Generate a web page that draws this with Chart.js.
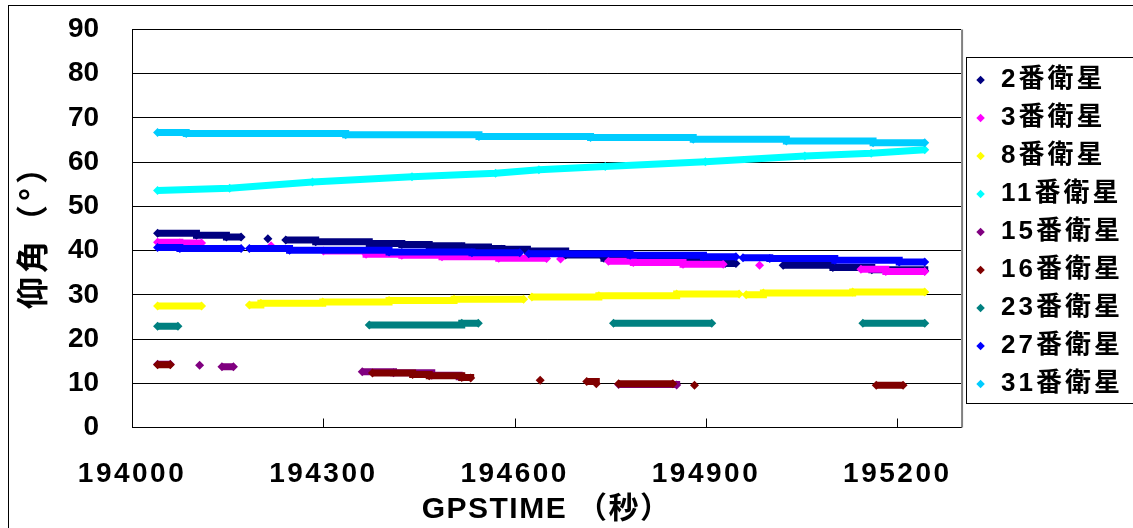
<!DOCTYPE html>
<html>
<head>
<meta charset="utf-8">
<script src="https://cdn.jsdelivr.net/npm/chart.js"></script>
<style>
html, body { margin: 0; padding: 0; background: #ffffff; }
#wrap { width: 1133px; height: 528px; position: relative; }
canvas { display: block; }
</style>
</head>
<body>
<div id="wrap"><canvas id="c" width="1133" height="528"></canvas></div>
<script>
// ---------- data ----------
const seriesNames = ['2番衛星', '3番衛星', '8番衛星', '11番衛星', '15番衛星', '16番衛星', '23番衛星', '27番衛星', '31番衛星'];
const xTickValues = [194000, 194300, 194600, 194900, 195200];
const xTitle = 'GPSTIME （秒）';
const yTitle = '仰角（°）';

// null entries mark gaps in the record
const sat2X  = [194040, 194101, 194148, 194171, null, 194213, null, 194241, 194288, 194372, 194423, 194466, 194517, 194559, 194580, 194620, 194680, 194740, 194830, 194930, 194947, null, 195021, 195099, 195160, 195243];
const sat2Y  = [43.9, 43.5, 43.1, 43.1, null, 42.7, null, 42.4, 42.0, 41.6, 41.4, 41.1, 40.8, 40.5, 40.3, 39.9, 39.0, 38.3, 37.7, 37.1, 37.1, null, 36.7, 36.2, 35.7, 35.4];

const sat3X  = [194040, 194075, 194109, null, 194218, null, 194300, 194367, 194423, 194486, 194575, 194650, null, 194672, null, 194747, 194786, 194864, 194927, null, 194984, null, 195143, 195182, 195243];
const sat3Y  = [41.9, 41.7, 41.7, null, 41.1, null, 39.9, 39.2, 38.95, 38.6, 38.3, 38.2, null, 38.1, null, 37.6, 37.3, 36.9, 36.9, null, 36.7, null, 35.8, 35.3, 35.3];

const sat8X  = [194040, 194109, null, 194184, 194202, 194299, 194403, 194505, 194614, null, 194627, 194732, 194854, 194952, null, 194963, 194990, 195130, 195243];
const sat8Y  = [27.5, 27.5, null, 27.7, 28.1, 28.4, 28.7, 29.0, 29.0, null, 29.5, 29.8, 30.2, 30.2, null, 30.0, 30.4, 30.65, 30.65];

const sat11X = [194040, 194153, 194283, 194439, 194570, 194638, 194742, 194899, 195055, 195159, 195243];
const sat11Y = [53.6, 54.1, 55.5, 56.7, 57.5, 58.3, 59.0, 60.1, 61.4, 62.0, 62.8];

const sat15X = [194040, 194060, null, 194106, null, 194141, 194159, null, 194361, 194410, 194470, 194513, 194520, null, 194763, 194854];
const sat15Y = [14.3, 14.3, null, 14.1, null, 13.75, 13.75, null, 12.6, 12.4, 11.8, 11.5, 11.5, null, 9.7, 9.6];

const sat16X = [194040, 194060, null, 194377, 194440, 194466, 194517, 194531, null, 194640, null, 194713, 194728, null, 194763, 194848, null, 194882, null, 195167, 195209];
const sat16Y = [14.2, 14.2, null, 12.3, 12.0, 11.7, 11.3, 11.2, null, 10.7, null, 10.4, 9.9, null, 9.9, 9.9, null, 9.55, null, 9.55, 9.55];

const sat23X = [194040, 194072, null, 194372, 194517, 194543, null, 194755, 194909, null, 195146, 195243];
const sat23Y = [22.9, 22.9, null, 23.2, 23.6, 23.6, null, 23.6, 23.6, null, 23.6, 23.6];

const sat27X = [194040, 194075, 194171, null, 194184, 194247, 194403, 194533, 194608, null, 194622, 194781, 194896, 194947, null, 194958, 195000, 195102, 195203, 195243];
const sat27Y = [40.7, 40.45, 40.45, null, 40.45, 40.1, 39.7, 39.5, 39.5, null, 39.3, 38.95, 38.6, 38.6, null, 38.4, 38.2, 37.8, 37.4, 37.4];

const sat31X = [194040, 194085, 194335, 194544, 194719, 194880, 195026, 195162, 195243];
const sat31Y = [66.7, 66.5, 66.2, 65.8, 65.6, 65.2, 64.8, 64.4, 64.4];

// ---------- styles ----------
const seriesColors = ['#000080', '#FF00FF', '#FFFF00', '#00FFFF', '#800080', '#800000', '#008080', '#0000FF', '#00CCFF'];
const seriesStepped = [true, true, true, false, true, true, true, true, true];

const seriesX = [sat2X, sat3X, sat8X, sat11X, sat15X, sat16X, sat23X, sat27X, sat31X];
const seriesY = [sat2Y, sat3Y, sat8Y, sat11Y, sat15Y, sat16Y, sat23Y, sat27Y, sat31Y];

const datasets = seriesNames.map((name, i) => ({
  label: name,
  data: seriesX[i].map((x, j) => ({ x: x, y: seriesY[i][j] })),
  showLine: true,
  spanGaps: false,
  stepped: seriesStepped[i] ? 'before' : false,
  borderColor: seriesColors[i],
  backgroundColor: seriesColors[i],
  borderWidth: 7,
  pointRadius: 4.5,
  pointStyle: 'rectRot',
  pointBorderWidth: 0,
  pointBackgroundColor: seriesColors[i],
  pointBorderColor: seriesColors[i],
  order: -i
}));

const latinFont = '"Liberation Sans", Arial, "Noto Sans CJK JP", sans-serif';
const cjkFont = '"Noto Sans CJK JP", "Liberation Sans", sans-serif';

function spaced(obj, key, sp) {
  if (!obj || obj['__sp_' + key]) return;
  const orig = obj[key];
  obj[key] = function (...a) {
    const ctx = this.ctx;
    const has = 'letterSpacing' in ctx;
    const prev = has ? ctx.letterSpacing : null;
    if (has) ctx.letterSpacing = sp;
    try { return orig.apply(this, a); } finally { if (has) ctx.letterSpacing = prev; }
  };
  obj['__sp_' + key] = true;
}

const legendSpacing = '3px';

const decorPlugin = {
  id: 'decor',
  beforeLayout(chart) {
    spaced(chart.legend, 'fit', legendSpacing);
    spaced(chart.legend, 'draw', legendSpacing);
  },
  afterLayout(chart) {
    spaced(chart.scales.x, 'drawLabels', '2.5px');
    spaced(chart.scales.x, 'drawTitle', '1.5px');
    spaced(chart.scales.y, 'drawTitle', '4px');
  },
  afterDraw(chart) {
    const ctx = chart.ctx;
    const a = chart.chartArea;
    const xs = chart.scales.x;
    ctx.save();
    // inward tick marks on the x axis
    ctx.strokeStyle = '#000';
    ctx.lineWidth = 1;
    xs.ticks.forEach(t => {
      const px = Math.round(xs.getPixelForValue(t.value)) + 0.5;
      ctx.beginPath();
      ctx.moveTo(px, a.bottom);
      ctx.lineTo(px, a.bottom - 9);
      ctx.stroke();
    });
    // right edge of plot area
    ctx.strokeStyle = '#808080';
    ctx.lineWidth = 2;
    ctx.beginPath();
    ctx.moveTo(a.right + 1, a.top);
    ctx.lineTo(a.right + 1, a.bottom);
    ctx.stroke();
    // legend frame
    ctx.strokeStyle = '#000';
    ctx.lineWidth = 1;
    ctx.strokeRect(Math.round(a.right) + 5.5, 57.5, 400, 346);
    // outer chart frame
    ctx.strokeRect(8.5, 5.5, 1400, 800);
    ctx.restore();
  }
};

Chart.defaults.font.family = latinFont;
Chart.defaults.color = '#000';

new Chart(document.getElementById('c'), {
  type: 'scatter',
  data: { datasets: datasets },
  plugins: [decorPlugin],
  options: {
    responsive: false,
    animation: false,
    events: [],
    layout: { padding: { top: 29.5, right: 0, bottom: 0, left: 0 } },
    plugins: {
      tooltip: { enabled: false },
      legend: {
        display: true,
        position: 'right',
        align: 'center',
        fullSize: false,
        title: { display: true, text: '', font: { size: 5 }, padding: { top: 0, bottom: 1 } },
        labels: {
          usePointStyle: true,
          boxWidth: 15,
          boxHeight: 6,
          padding: 12,
          color: '#000',
          font: { family: latinFont, size: 26, weight: 'bold' },
          sort: (a, b) => a.datasetIndex - b.datasetIndex
        }
      }
    },
    scales: {
      x: {
        type: 'linear',
        min: 194000,
        max: 195300,
        afterBuildTicks: (scale) => { scale.ticks = xTickValues.map(v => ({ value: v })); },
        ticks: {
          autoSkip: false,
          maxRotation: 0,
          padding: 0,
          color: '#000',
          font: { family: latinFont, size: 28, weight: 'bold' },
          callback: (v) => String(v)
        },
        grid: { drawOnChartArea: false, drawTicks: true, tickLength: 29.7, tickColor: 'rgba(0,0,0,0)', color: 'rgba(0,0,0,0)' },
        border: { display: true, color: '#000', width: 1 },
        title: {
          display: true,
          text: xTitle,
          color: '#000',
          font: { family: latinFont, size: 30, weight: 'bold' },
          padding: { top: 1.2, bottom: 0 }
        }
      },
      y: {
        type: 'linear',
        min: 0,
        max: 90,
        ticks: {
          stepSize: 10,
          padding: 0,
          color: '#000',
          font: { family: latinFont, size: 28, weight: 'bold' },
          callback: (v) => String(v)
        },
        grid: { drawOnChartArea: true, drawTicks: true, tickLength: 33, tickColor: 'rgba(0,0,0,0)', color: '#000', lineWidth: 1 },
        border: { display: true, color: '#000', width: 1 },
        title: {
          display: true,
          text: yTitle,
          color: '#000',
          font: { family: cjkFont, size: 32, weight: 'bold' },
          padding: { top: 12.5, bottom: 17 }
        }
      }
    }
  }
});
</script>
</body>
</html>
